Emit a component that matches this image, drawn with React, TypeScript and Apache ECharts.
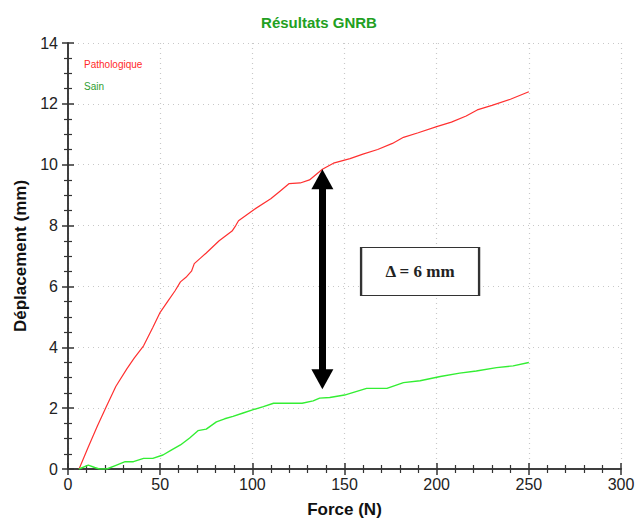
import React, { useEffect, useRef } from "react";
import * as echarts from "echarts";

const titleText = "Résultats GNRB";
const xName = "Force (N)";
const yName = "Déplacement (mm)";
const seriesNames = ["Pathologique", "Sain"];

const pathoForce = [6, 11, 16, 21, 26, 32, 36, 41, 46, 50, 54, 58, 61, 64, 67, 68.5, 72, 75, 82, 89, 91, 92.5, 101, 110, 115, 120, 126, 131, 138, 144, 153, 160, 168, 176, 182, 190, 200, 208, 216, 222, 230, 240, 250];
const pathoDisp = [0, 0.72, 1.42, 2.08, 2.72, 3.3, 3.65, 4.05, 4.65, 5.15, 5.5, 5.85, 6.15, 6.3, 6.5, 6.75, 6.94, 7.1, 7.5, 7.82, 8.0, 8.16, 8.53, 8.88, 9.13, 9.38, 9.4, 9.5, 9.85, 10.05, 10.2, 10.35, 10.5, 10.7, 10.9, 11.05, 11.25, 11.4, 11.6, 11.8, 11.95, 12.15, 12.4];

const sainForce = [6, 11, 14.5, 17, 21, 26, 31, 35.5, 41, 46, 51.5, 56, 61, 66, 70.5, 75, 80.5, 85, 89.5, 95, 100.5, 106, 111.5, 127, 133, 136.5, 142, 150, 162, 173, 182, 191, 202, 212.5, 221.5, 232.5, 241.5, 250];
const sainDisp = [0, 0.13, 0.05, 0.0, 0.0, 0.12, 0.24, 0.24, 0.35, 0.35, 0.46, 0.62, 0.79, 1.02, 1.26, 1.31, 1.55, 1.65, 1.73, 1.84, 1.95, 2.05, 2.16, 2.16, 2.24, 2.33, 2.35, 2.43, 2.65, 2.65, 2.84, 2.9, 3.04, 3.15, 3.22, 3.33, 3.39, 3.5];

// annotation: delta arrow between the two curves at a given force (shaft ends; heads extend beyond)
const arrowForce = 138;
const arrowFrom = 2.95;
const arrowTo = 9.52;
const deltaLabel = "Δ = 6 mm";
const deltaBoxAt = [191, 6.49];

const zip = (a: number[], b: number[]) => a.map((v, i) => [v, b[i]]);

export default function App() {
  const ref = useRef<HTMLDivElement>(null);
  useEffect(() => {
    if (!ref.current) return;
    const chart = echarts.init(ref.current, undefined, { renderer: "svg" });
    const font = "Liberation Sans, Arial, sans-serif";
    const axisCommon = {
      axisLine: { show: true, lineStyle: { color: "#333", width: 1.5 } },
      axisTick: { show: true, inside: true, length: 6, lineStyle: { color: "#333", width: 1.5 } },
      minorTick: { show: true, splitNumber: 5, length: 4, lineStyle: { color: "#333", width: 1.2 } },
    };
    chart.setOption({
      animation: false,
      backgroundColor: "#fff",
      title: {
        text: titleText,
        left: "center",
        top: 10,
        textStyle: { color: "#22a022", fontSize: 15, fontWeight: "bold", fontFamily: font },
      },
      legend: {
        orient: "vertical",
        left: 74,
        top: 54,
        itemWidth: 0,
        itemHeight: 0,
        itemGap: 12,
        icon: "rect",
        data: [
          { name: seriesNames[0], textStyle: { color: "#ff2a2a" } },
          { name: seriesNames[1], textStyle: { color: "#2e9e2e" } },
        ],
        textStyle: { fontSize: 10, fontFamily: font },
      },
      grid: { left: 68, right: 17, top: 43, bottom: 53 },
      xAxis: [
        {
          type: "value",
          min: 0,
          max: 300,
          interval: 50,
          ...axisCommon,
          axisLabel: { color: "#222", fontSize: 16, margin: 7, fontFamily: font },
          splitLine: { show: true, lineStyle: { color: "#c8c8c8", type: [1, 4], width: 1.2 } },
          name: xName,
          nameLocation: "middle",
          nameGap: 32,
          nameTextStyle: { color: "#111", fontSize: 17, fontWeight: "bold", fontFamily: font },
        },
        {
          type: "value",
          position: "top",
          min: 0,
          max: 300,
          interval: 50,
          ...axisCommon,
          axisLabel: { show: false },
          splitLine: { show: false },
        },
      ],
      yAxis: [
        {
          type: "value",
          min: 0,
          max: 14,
          interval: 2,
          ...axisCommon,
          minorTick: { ...axisCommon.minorTick, splitNumber: 4 },
          axisLabel: { color: "#222", fontSize: 16, margin: 10, fontFamily: font },
          splitLine: { show: true, lineStyle: { color: "#c8c8c8", type: [1, 4], width: 1.2 } },
          name: yName,
          nameLocation: "middle",
          nameGap: 38,
          nameTextStyle: { color: "#111", fontSize: 17, fontWeight: "bold", fontFamily: font },
        },
        {
          type: "value",
          position: "right",
          min: 0,
          max: 14,
          interval: 2,
          ...axisCommon,
          minorTick: { ...axisCommon.minorTick, splitNumber: 4 },
          axisLabel: { show: false },
          splitLine: { show: false },
        },
      ],
      series: [
        {
          name: seriesNames[0],
          type: "line",
          data: zip(pathoForce, pathoDisp),
          showSymbol: false,
          symbol: "none",
          lineStyle: { color: "#ff3030", width: 1.2 },
          itemStyle: { color: "#ff3030" },
          z: 3,
        },
        {
          name: seriesNames[1],
          type: "line",
          data: zip(sainForce, sainDisp),
          showSymbol: false,
          symbol: "none",
          lineStyle: { color: "#33ee33", width: 1.4 },
          itemStyle: { color: "#33ee33" },
          z: 3,
          markLine: {
            silent: true,
            symbol: ["triangle", "triangle"],
            symbolSize: [22, 20],
            label: { show: false },
            lineStyle: { color: "#000", width: 7, type: "solid" },
            itemStyle: { color: "#000" },
            data: [[{ coord: [arrowForce, arrowFrom] }, { coord: [arrowForce, arrowTo] }]],
          },
          markPoint: {
            silent: true,
            symbol: "rect",
            symbolSize: [118, 48],
            itemStyle: { color: "#fff", borderColor: "#333", borderWidth: 1.5 },
            label: {
              show: true,
              position: "inside",
              formatter: deltaLabel,
              color: "#222",
              fontSize: 17,
              fontWeight: "bold",
              fontFamily: "Liberation Serif, Times New Roman, serif",
            },
            data: [{ coord: deltaBoxAt }],
          },
        },
      ],
    });
    return () => chart.dispose();
  }, []);
  return <div ref={ref} style={{ width: 638, height: 523, position: "fixed", left: 0, top: 0 }} />;
}
